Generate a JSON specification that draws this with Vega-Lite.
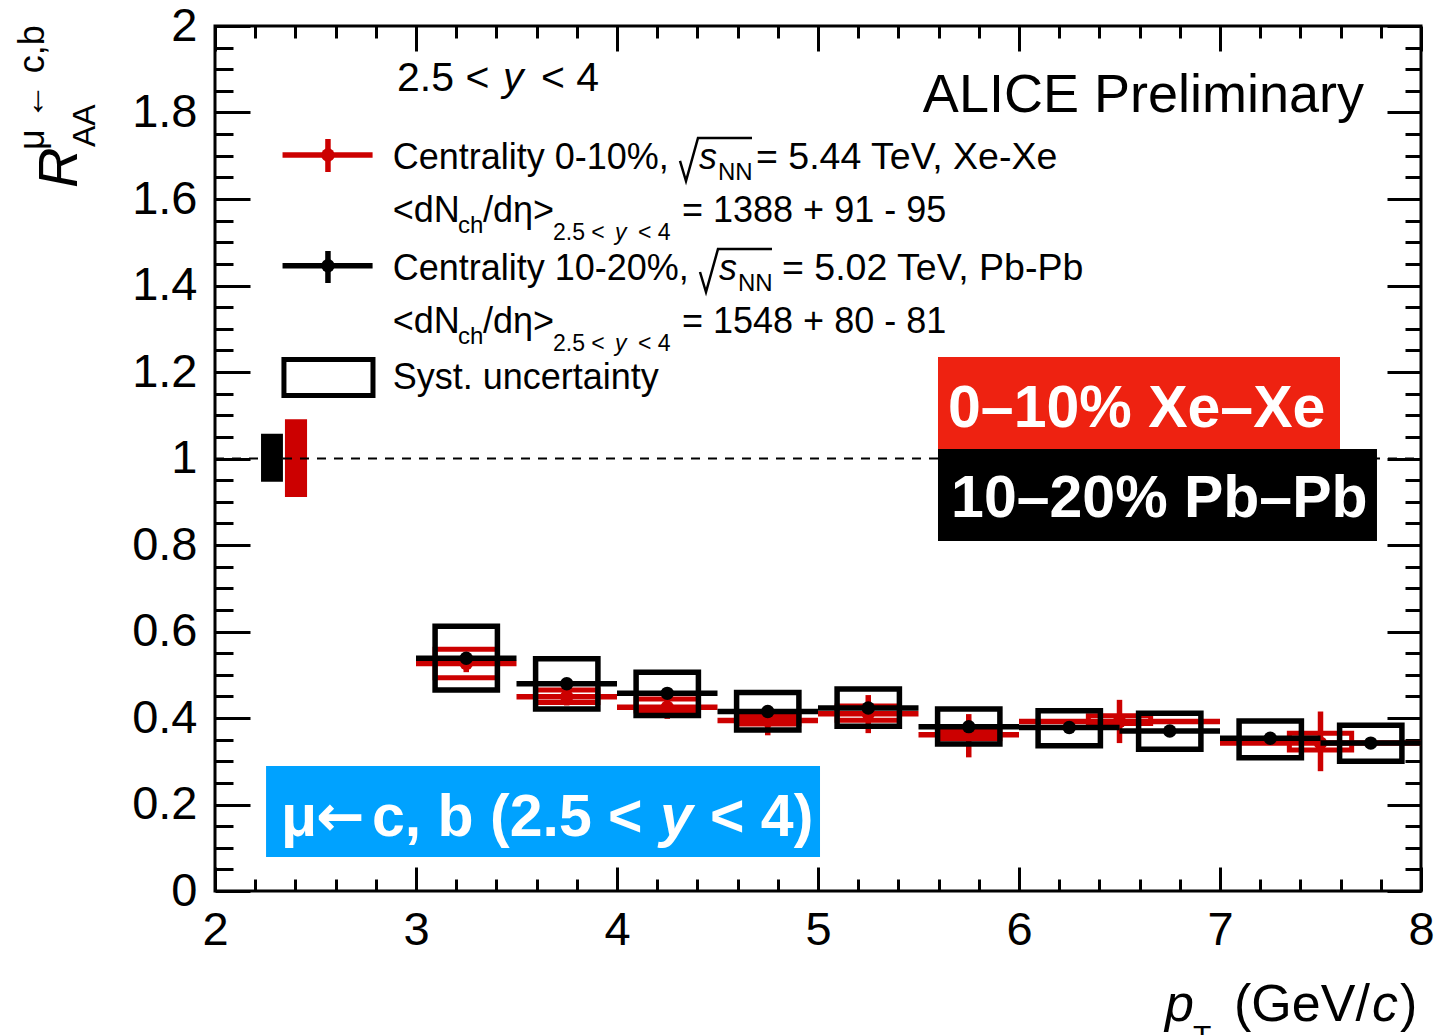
{
  "$schema": "https://vega.github.io/schema/vega-lite/v6.json",
  "width": 1206,
  "height": 865,
  "autosize": {"type": "none"},
  "padding": {"left": 215, "top": 26, "right": 20, "bottom": 144},
  "background": "white",
  "config": {
    "view": {"stroke": "black", "strokeWidth": 3},
    "font": "Liberation Sans",
    "axis": {"domain": false, "grid": false, "tickColor": "black", "tickWidth": 3, "labelFont": "Liberation Sans", "labelFontSize": 47, "labelColor": "black", "labelFlush": false, "labelOverlap": false, "title": null}
  },
  "datasets": {
    "axisrow": [{"x": 2, "y": 0}],
    "black": [
      {"x": 3.25, "y": 0.538, "xlo": 3.0, "xhi": 3.5, "ylo": 0.528, "yhi": 0.548, "bxlo": 3.095, "bxhi": 3.405, "slo": 0.465, "shi": 0.612},
      {"x": 3.75, "y": 0.479, "xlo": 3.5, "xhi": 4.0, "ylo": 0.469, "yhi": 0.489, "bxlo": 3.595, "bxhi": 3.905, "slo": 0.421, "shi": 0.537},
      {"x": 4.25, "y": 0.457, "xlo": 4.0, "xhi": 4.5, "ylo": 0.447, "yhi": 0.467, "bxlo": 4.095, "bxhi": 4.405, "slo": 0.406, "shi": 0.506},
      {"x": 4.75, "y": 0.415, "xlo": 4.5, "xhi": 5.0, "ylo": 0.405, "yhi": 0.425, "bxlo": 4.595, "bxhi": 4.905, "slo": 0.372, "shi": 0.459},
      {"x": 5.25, "y": 0.423, "xlo": 5.0, "xhi": 5.5, "ylo": 0.413, "yhi": 0.433, "bxlo": 5.095, "bxhi": 5.405, "slo": 0.381, "shi": 0.467},
      {"x": 5.75, "y": 0.380, "xlo": 5.5, "xhi": 6.0, "ylo": 0.370, "yhi": 0.390, "bxlo": 5.595, "bxhi": 5.905, "slo": 0.340, "shi": 0.421},
      {"x": 6.25, "y": 0.378, "xlo": 6.0, "xhi": 6.5, "ylo": 0.368, "yhi": 0.388, "bxlo": 6.095, "bxhi": 6.405, "slo": 0.336, "shi": 0.417},
      {"x": 6.75, "y": 0.370, "xlo": 6.5, "xhi": 7.0, "ylo": 0.360, "yhi": 0.380, "bxlo": 6.595, "bxhi": 6.905, "slo": 0.328, "shi": 0.411},
      {"x": 7.25, "y": 0.353, "xlo": 7.0, "xhi": 7.5, "ylo": 0.343, "yhi": 0.363, "bxlo": 7.095, "bxhi": 7.405, "slo": 0.308, "shi": 0.393},
      {"x": 7.75, "y": 0.342, "xlo": 7.5, "xhi": 8.0, "ylo": 0.332, "yhi": 0.352, "bxlo": 7.595, "bxhi": 7.905, "slo": 0.300, "shi": 0.383}
    ],
    "red": [
      {"x": 3.25, "y": 0.526, "xlo": 3.0, "xhi": 3.5, "ylo": 0.506, "yhi": 0.546, "bxlo": 3.095, "bxhi": 3.405, "slo": 0.493, "shi": 0.559},
      {"x": 3.75, "y": 0.449, "xlo": 3.5, "xhi": 4.0, "ylo": 0.429, "yhi": 0.469, "bxlo": 3.595, "bxhi": 3.905, "slo": 0.436, "shi": 0.465},
      {"x": 4.25, "y": 0.425, "xlo": 4.0, "xhi": 4.5, "ylo": 0.398, "yhi": 0.452, "bxlo": 4.095, "bxhi": 4.405, "slo": 0.416, "shi": 0.444},
      {"x": 4.75, "y": 0.394, "xlo": 4.5, "xhi": 5.0, "ylo": 0.360, "yhi": 0.428, "bxlo": 4.595, "bxhi": 4.905, "slo": 0.386, "shi": 0.405},
      {"x": 5.25, "y": 0.410, "xlo": 5.0, "xhi": 5.5, "ylo": 0.365, "yhi": 0.453, "bxlo": 5.095, "bxhi": 5.405, "slo": 0.395, "shi": 0.428},
      {"x": 5.75, "y": 0.361, "xlo": 5.5, "xhi": 6.0, "ylo": 0.309, "yhi": 0.409, "bxlo": 5.595, "bxhi": 5.905, "slo": 0.352, "shi": 0.372},
      {"x": 6.5, "y": 0.392, "xlo": 6.0, "xhi": 7.0, "ylo": 0.342, "yhi": 0.442, "bxlo": 6.345, "bxhi": 6.655, "slo": 0.387, "shi": 0.405},
      {"x": 7.5, "y": 0.342, "xlo": 7.0, "xhi": 8.0, "ylo": 0.277, "yhi": 0.415, "bxlo": 7.345, "bxhi": 7.655, "slo": 0.326, "shi": 0.365}
    ]
  },
  "encoding": {
    "x": {"field": "x", "type": "quantitative", "scale": {"domain": [2, 8], "nice": false, "zero": false}, "axis": null},
    "y": {"field": "y", "type": "quantitative", "scale": {"domain": [0, 2], "nice": false, "zero": false}, "axis": null}
  },
  "layer": [
    {
      "data": {"name": "axisrow"},
      "mark": {"type": "point", "opacity": 0},
      "encoding": {
        "x": {"field": "x", "type": "quantitative", "scale": {"domain": [2, 8], "nice": false, "zero": false}, "axis": {"orient": "bottom", "values": [2, 3, 4, 5, 6, 7, 8], "tickSize": -24, "labelPadding": 40, "format": "d", "title": null}},
        "y": {"field": "y", "type": "quantitative", "scale": {"domain": [0, 2], "nice": false, "zero": false}, "axis": {"orient": "left", "values": [0, 0.2, 0.4, 0.6, 0.8, 1, 1.2, 1.4, 1.6, 1.8, 2], "tickSize": -35, "labelPadding": 53, "format": ".1~f", "title": null}}
      }
    },
    {
      "data": {"name": "axisrow"},
      "mark": {"type": "point", "opacity": 0},
      "encoding": {
        "x": {"field": "x", "type": "quantitative", "scale": {"domain": [2, 8], "nice": false, "zero": false}, "axis": {"orient": "bottom", "values": [2.2, 2.4, 2.6, 2.8, 3.2, 3.4, 3.6, 3.8, 4.2, 4.4, 4.6, 4.8, 5.2, 5.4, 5.6, 5.8, 6.2, 6.4, 6.6, 6.8, 7.2, 7.4, 7.6, 7.8], "tickSize": -12, "labels": false, "title": null}},
        "y": {"field": "y", "type": "quantitative", "scale": {"domain": [0, 2], "nice": false, "zero": false}, "axis": {"orient": "left", "values": [0.05, 0.1, 0.15, 0.25, 0.3, 0.35, 0.45, 0.5, 0.55, 0.65, 0.7, 0.75, 0.85, 0.9, 0.95, 1.05, 1.1, 1.15, 1.25, 1.3, 1.35, 1.45, 1.5, 1.55, 1.65, 1.7, 1.75, 1.85, 1.9, 1.95], "tickSize": -18, "labels": false, "title": null}}
      }
    },
    {
      "data": {"name": "axisrow"},
      "mark": {"type": "point", "opacity": 0},
      "encoding": {
        "x": {"field": "x", "type": "quantitative", "scale": {"domain": [2, 8], "nice": false, "zero": false}, "axis": {"orient": "top", "values": [2, 3, 4, 5, 6, 7, 8], "tickSize": -25, "labels": false, "title": null}},
        "y": {"field": "y", "type": "quantitative", "scale": {"domain": [0, 2], "nice": false, "zero": false}, "axis": {"orient": "right", "values": [0, 0.2, 0.4, 0.6, 0.8, 1, 1.2, 1.4, 1.6, 1.8, 2], "tickSize": -34, "labels": false, "title": null}}
      }
    },
    {
      "data": {"name": "axisrow"},
      "mark": {"type": "point", "opacity": 0},
      "encoding": {
        "x": {"field": "x", "type": "quantitative", "scale": {"domain": [2, 8], "nice": false, "zero": false}, "axis": {"orient": "top", "values": [2.2, 2.4, 2.6, 2.8, 3.2, 3.4, 3.6, 3.8, 4.2, 4.4, 4.6, 4.8, 5.2, 5.4, 5.6, 5.8, 6.2, 6.4, 6.6, 6.8, 7.2, 7.4, 7.6, 7.8], "tickSize": -12, "labels": false, "title": null}},
        "y": {"field": "y", "type": "quantitative", "scale": {"domain": [0, 2], "nice": false, "zero": false}, "axis": {"orient": "right", "values": [0.05, 0.1, 0.15, 0.25, 0.3, 0.35, 0.45, 0.5, 0.55, 0.65, 0.7, 0.75, 0.85, 0.9, 0.95, 1.05, 1.1, 1.15, 1.25, 1.3, 1.35, 1.45, 1.5, 1.55, 1.65, 1.7, 1.75, 1.85, 1.9, 1.95], "tickSize": -16, "labels": false, "title": null}}
      }
    },
    {
      "data": {"values": [{"x": 2.229, "x2": 2.338, "y": 0.946, "y2": 1.057}]},
      "mark": {"type": "rect", "color": "black"},
      "encoding": {"x2": {"field": "x2"}, "y2": {"field": "y2"}}
    },
    {
      "data": {"values": [{"x": 2.348, "x2": 2.458, "y": 0.911, "y2": 1.091}]},
      "mark": {"type": "rect", "color": "#CC0000"},
      "encoding": {"x2": {"field": "x2"}, "y2": {"field": "y2"}}
    },
    {
      "data": {"values": [{"x": 2, "x2": 8, "y": 1}]},
      "mark": {"type": "rule", "color": "black", "strokeWidth": 1.8, "strokeDash": [9, 8]},
      "encoding": {"x2": {"field": "x2"}}
    },
    {
      "data": {"name": "red"},
      "mark": {"type": "rect", "filled": false, "color": "#CC0000", "strokeWidth": 5},
      "encoding": {"x": {"field": "bxlo", "type": "quantitative"}, "x2": {"field": "bxhi"}, "y": {"field": "slo", "type": "quantitative"}, "y2": {"field": "shi"}}
    },
    {
      "data": {"name": "red"},
      "mark": {"type": "rule", "color": "#CC0000", "strokeWidth": 5.5},
      "encoding": {"x": {"field": "xlo", "type": "quantitative"}, "x2": {"field": "xhi"}}
    },
    {
      "data": {"name": "red"},
      "mark": {"type": "rule", "color": "#CC0000", "strokeWidth": 5.5},
      "encoding": {"y": {"field": "ylo", "type": "quantitative"}, "y2": {"field": "yhi"}}
    },
    {
      "data": {"name": "red"},
      "mark": {"type": "point", "filled": true, "color": "#CC0000", "size": 180, "opacity": 1, "shape": "circle"}
    },
    {
      "data": {"name": "black"},
      "mark": {"type": "rect", "filled": false, "color": "black", "strokeWidth": 5.5},
      "encoding": {"x": {"field": "bxlo", "type": "quantitative"}, "x2": {"field": "bxhi"}, "y": {"field": "slo", "type": "quantitative"}, "y2": {"field": "shi"}}
    },
    {
      "data": {"name": "black"},
      "mark": {"type": "rule", "color": "black", "strokeWidth": 5.5},
      "encoding": {"x": {"field": "xlo", "type": "quantitative"}, "x2": {"field": "xhi"}}
    },
    {
      "data": {"name": "black"},
      "mark": {"type": "rule", "color": "black", "strokeWidth": 5.5},
      "encoding": {"y": {"field": "ylo", "type": "quantitative"}, "y2": {"field": "yhi"}}
    },
    {
      "data": {"name": "black"},
      "mark": {"type": "point", "filled": true, "color": "black", "size": 180, "opacity": 1, "shape": "circle"}
    },
    {
      "data": {"values": [
        {"x": 2.336, "x2": 2.784, "y": 1.7017, "y2": 1.7017},
        {"x": 2.562, "x2": 2.562, "y": 1.6624, "y2": 1.7387}
      ]},
      "mark": {"type": "rule", "strokeWidth": 5.5, "color": "#CC0000"},
      "encoding": {"x2": {"field": "x2"}, "y2": {"field": "y2"}}
    },
    {
      "data": {"values": [
        {"x": 2.336, "x2": 2.784, "y": 1.4458, "y2": 1.4458},
        {"x": 2.562, "x2": 2.562, "y": 1.4058, "y2": 1.4798}
      ]},
      "mark": {"type": "rule", "strokeWidth": 5.5, "color": "black"},
      "encoding": {"x2": {"field": "x2"}, "y2": {"field": "y2"}}
    },
    {
      "data": {"values": [{"x": 2.562, "y": 1.7017}]},
      "mark": {"type": "point", "filled": true, "size": 180, "opacity": 1, "shape": "circle", "color": "#CC0000"}
    },
    {
      "data": {"values": [{"x": 2.562, "y": 1.4458}]},
      "mark": {"type": "point", "filled": true, "size": 180, "opacity": 1, "shape": "circle", "color": "black"}
    },
    {
      "data": {"values": [{"x": 2.343, "x2": 2.786, "y": 1.1457, "y2": 1.229}]},
      "mark": {"type": "rect", "filled": false, "color": "black", "strokeWidth": 5},
      "encoding": {"x2": {"field": "x2"}, "y2": {"field": "y2"}}
    },
    {
      "data": {"values": [
        {"x": 4.3134, "y": 1.6879, "r": "a"},
        {"x": 4.3433, "y": 1.6416, "r": "a"},
        {"x": 4.403, "y": 1.741, "r": "a"},
        {"x": 4.6716, "y": 1.741, "r": "a"},
        {"x": 4.4129, "y": 1.4312, "r": "b"},
        {"x": 4.4428, "y": 1.385, "r": "b"},
        {"x": 4.5025, "y": 1.4844, "r": "b"},
        {"x": 4.7711, "y": 1.4844, "r": "b"}
      ]},
      "mark": {"type": "line", "color": "black", "strokeWidth": 2.5, "strokeJoin": "miter"},
      "encoding": {"detail": {"field": "r", "type": "nominal"}}
    },
    {
      "data": {"values": [{"x": 5.597, "x2": 7.597, "y": 1.022, "y2": 1.2347}]},
      "mark": {"type": "rect", "color": "#EE2211"},
      "encoding": {"x2": {"field": "x2"}, "y2": {"field": "y2"}}
    },
    {
      "data": {"values": [{"x": 5.597, "x2": 7.781, "y": 0.8092, "y2": 1.022}]},
      "mark": {"type": "rect", "color": "black"},
      "encoding": {"x2": {"field": "x2"}, "y2": {"field": "y2"}}
    },
    {
      "data": {"values": [{"x": 2.254, "x2": 5.01, "y": 0.0786, "y2": 0.289}]},
      "mark": {"type": "rect", "color": "#00A2FF"},
      "encoding": {"x2": {"field": "x2"}, "y2": {"field": "y2"}}
    },
    {
      "data": {"values": [
        {"x": 5.647, "y": 1.0728, "t": "0–10% Xe–Xe"},
        {"x": 5.662, "y": 0.8647, "t": "10–20% Pb–Pb"},
        {"x": 2.3284, "y": 0.1272, "t": "μ"},
        {"x": 2.7811, "y": 0.1272, "t": "c, b (2.5 <"},
        {"x": 4.4627, "y": 0.1272, "t": "< 4)"}
      ]},
      "mark": {"type": "text", "align": "left", "baseline": "alphabetic", "fontSize": 59, "fontWeight": "bold", "color": "white", "font": "Liberation Sans"},
      "encoding": {"text": {"field": "t", "type": "nominal"}}
    },
    {
      "data": {"values": [{"x": 2.5025, "y": 0.1272, "t": "←"}]},
      "mark": {"type": "text", "align": "left", "baseline": "alphabetic", "fontSize": 58, "fontWeight": "bold", "color": "white", "font": "DejaVu Sans"},
      "encoding": {"text": {"field": "t", "type": "nominal"}}
    },
    {
      "data": {"values": [{"x": 4.2139, "y": 0.1272, "t": "y"}]},
      "mark": {"type": "text", "align": "left", "baseline": "alphabetic", "fontSize": 59, "fontWeight": "bold", "fontStyle": "italic", "color": "white", "font": "Liberation Sans"},
      "encoding": {"text": {"field": "t", "type": "nominal"}}
    },
    {
      "data": {"values": [
        {"x": 2.8841, "y": 1.6694, "t": "Centrality 0-10%,"},
        {"x": 2.8841, "y": 1.5468, "t": "<dN"},
        {"x": 3.3333, "y": 1.5468, "t": "/dη>"},
        {"x": 4.3234, "y": 1.5468, "t": "= 1388 + 91 - 95"},
        {"x": 2.8841, "y": 1.4127, "t": "Centrality 10-20%,"},
        {"x": 2.8841, "y": 1.2902, "t": "<dN"},
        {"x": 3.3333, "y": 1.2902, "t": "/dη>"},
        {"x": 4.3234, "y": 1.2902, "t": "= 1548 + 80 - 81"},
        {"x": 2.8841, "y": 1.1607, "t": "Syst. uncertainty"}
      ]},
      "mark": {"type": "text", "align": "left", "baseline": "alphabetic", "fontSize": 36, "color": "black", "font": "Liberation Sans"},
      "encoding": {"text": {"field": "t", "type": "nominal"}}
    },
    {
      "data": {"values": [
        {"x": 4.6915, "y": 1.6694, "t": "= 5.44 TeV, Xe-Xe"},
        {"x": 4.8209, "y": 1.4127, "t": "= 5.02 TeV, Pb-Pb"}
      ]},
      "mark": {"type": "text", "align": "left", "baseline": "alphabetic", "fontSize": 37.5, "color": "black", "font": "Liberation Sans"},
      "encoding": {"text": {"field": "t", "type": "nominal"}}
    },
    {
      "data": {"values": [
        {"x": 4.408, "y": 1.6694, "t": "s"},
        {"x": 4.5075, "y": 1.4127, "t": "s"}
      ]},
      "mark": {"type": "text", "align": "left", "baseline": "alphabetic", "fontSize": 36, "fontStyle": "italic", "color": "black", "font": "Liberation Sans"},
      "encoding": {"text": {"field": "t", "type": "nominal"}}
    },
    {
      "data": {"values": [
        {"x": 4.5025, "y": 1.6439, "t": "NN"},
        {"x": 4.602, "y": 1.3873, "t": "NN"},
        {"x": 3.209, "y": 1.5214, "t": "ch"},
        {"x": 3.209, "y": 1.2647, "t": "ch"}
      ]},
      "mark": {"type": "text", "align": "left", "baseline": "alphabetic", "fontSize": 24, "color": "black", "font": "Liberation Sans"},
      "encoding": {"text": {"field": "t", "type": "nominal"}}
    },
    {
      "data": {"values": [
        {"x": 3.6816, "y": 1.5052, "t": "2.5 <"},
        {"x": 4.1045, "y": 1.5052, "t": "< 4"},
        {"x": 3.6816, "y": 1.2486, "t": "2.5 <"},
        {"x": 4.1045, "y": 1.2486, "t": "< 4"}
      ]},
      "mark": {"type": "text", "align": "left", "baseline": "alphabetic", "fontSize": 23, "color": "black", "font": "Liberation Sans"},
      "encoding": {"text": {"field": "t", "type": "nominal"}}
    },
    {
      "data": {"values": [
        {"x": 3.99, "y": 1.5052, "t": "y"},
        {"x": 3.99, "y": 1.2486, "t": "y"}
      ]},
      "mark": {"type": "text", "align": "left", "baseline": "alphabetic", "fontSize": 23, "fontStyle": "italic", "color": "black", "font": "Liberation Sans"},
      "encoding": {"text": {"field": "t", "type": "nominal"}}
    },
    {
      "data": {"values": [
        {"x": 2.9055, "y": 1.8488, "t": "2.5 <"},
        {"x": 3.6219, "y": 1.8488, "t": "< 4"}
      ]},
      "mark": {"type": "text", "align": "left", "baseline": "alphabetic", "fontSize": 41, "color": "black", "font": "Liberation Sans"},
      "encoding": {"text": {"field": "t", "type": "nominal"}}
    },
    {
      "data": {"values": [{"x": 3.4328, "y": 1.8488, "t": "y"}]},
      "mark": {"type": "text", "align": "left", "baseline": "alphabetic", "fontSize": 41, "fontStyle": "italic", "color": "black", "font": "Liberation Sans"},
      "encoding": {"text": {"field": "t", "type": "nominal"}}
    },
    {
      "data": {"values": [{"x": 7.7164, "y": 1.8012, "t": "ALICE Preliminary"}]},
      "mark": {"type": "text", "align": "right", "baseline": "alphabetic", "fontSize": 54, "color": "black", "font": "Liberation Sans"},
      "encoding": {"text": {"field": "t", "type": "nominal"}}
    },
    {
      "data": {"values": [
        {"x": 7.0697, "y": -0.3006, "t": "(GeV/"},
        {"x": 7.8955, "y": -0.3006, "t": ")"}
      ]},
      "mark": {"type": "text", "align": "left", "baseline": "alphabetic", "fontSize": 52, "color": "black", "font": "Liberation Sans"},
      "encoding": {"text": {"field": "t", "type": "nominal"}}
    },
    {
      "data": {"values": [
        {"x": 6.7264, "y": -0.3006, "t": "p"},
        {"x": 7.7562, "y": -0.3006, "t": "c"}
      ]},
      "mark": {"type": "text", "align": "left", "baseline": "alphabetic", "fontSize": 52, "fontStyle": "italic", "color": "black", "font": "Liberation Sans"},
      "encoding": {"text": {"field": "t", "type": "nominal"}}
    },
    {
      "data": {"values": [{"x": 6.8657, "y": -0.3584, "t": "T"}]},
      "mark": {"type": "text", "align": "left", "baseline": "alphabetic", "fontSize": 30, "color": "black", "font": "Liberation Sans"},
      "encoding": {"text": {"field": "t", "type": "nominal"}}
    },
    {
      "data": {"values": [{"x": 1.3134, "y": 1.6254, "t": "R"}]},
      "mark": {"type": "text", "align": "left", "baseline": "alphabetic", "angle": 270, "fontSize": 56, "fontStyle": "italic", "color": "black", "font": "Liberation Sans"},
      "encoding": {"text": {"field": "t", "type": "nominal"}}
    },
    {
      "data": {"values": [{"x": 1.1493, "y": 1.7133, "t": "μ ← c,b"}]},
      "mark": {"type": "text", "align": "left", "baseline": "alphabetic", "angle": 270, "fontSize": 36, "color": "black", "font": "Liberation Sans"},
      "encoding": {"text": {"field": "t", "type": "nominal"}}
    },
    {
      "data": {"values": [{"x": 1.403, "y": 1.7202, "t": "AA"}]},
      "mark": {"type": "text", "align": "left", "baseline": "alphabetic", "angle": 270, "fontSize": 32, "color": "black", "font": "Liberation Sans"},
      "encoding": {"text": {"field": "t", "type": "nominal"}}
    }
  ],
  "resolve": {"axis": {"x": "independent", "y": "independent"}}
}
